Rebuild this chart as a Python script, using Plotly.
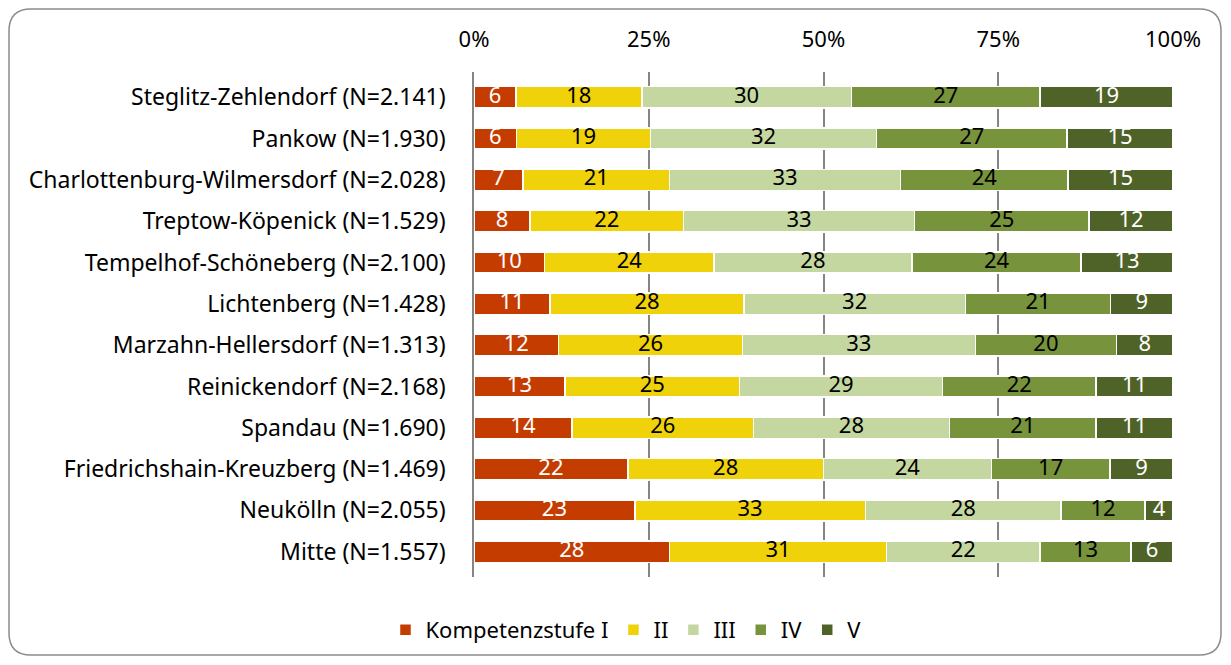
import plotly.graph_objects as go

districts = [
    "Steglitz-Zehlendorf (N=2.141)",
    "Pankow (N=1.930)",
    "Charlottenburg-Wilmersdorf (N=2.028)",
    "Treptow-Köpenick (N=1.529)",
    "Tempelhof-Schöneberg (N=2.100)",
    "Lichtenberg (N=1.428)",
    "Marzahn-Hellersdorf (N=1.313)",
    "Reinickendorf (N=2.168)",
    "Spandau (N=1.690)",
    "Friedrichshain-Kreuzberg (N=1.469)",
    "Neukölln (N=2.055)",
    "Mitte (N=1.557)",
]
stufe_I = [6, 6, 7, 8, 10, 11, 12, 13, 14, 22, 23, 28]
stufe_II = [18, 19, 21, 22, 24, 28, 26, 25, 26, 28, 33, 31]
stufe_III = [30, 32, 33, 33, 28, 32, 33, 29, 28, 24, 28, 22]
stufe_IV = [27, 27, 24, 25, 24, 21, 20, 22, 21, 17, 12, 13]
stufe_V = [19, 15, 15, 12, 13, 9, 8, 11, 11, 9, 4, 6]
series_names = ["Kompetenzstufe I", "II", "III", "IV", "V"]
tick_vals = [0, 25, 50, 75, 100]
tick_text = ["0%", "25%", "50%", "75%", "100%"]

colors = ["#C43C00", "#F0D20A", "#C4D7A0", "#77933C", "#4F6228"]
text_colors = ["white", "black", "black", "black", "white"]
FONT = "Noto Sans"
FS = 22

series = [stufe_I, stufe_II, stufe_III, stufe_IV, stufe_V]
totals = [sum(s[i] for s in series) for i in range(len(districts))]

fig = go.Figure()
for name, vals, c in zip(series_names, series, colors):
    fig.add_trace(go.Bar(
        name=name, y=districts, x=vals, orientation="h",
        marker=dict(color=c, line=dict(color="white", width=1.5)),
        textposition="none", hoverinfo="x+y",
    ))

# value labels at segment centres (in normalised percent units)
cum = [0.0] * len(districts)
for vals, tc in zip(series, text_colors):
    mids = []
    for i, v in enumerate(vals):
        share = 100.0 * v / totals[i]
        mids.append(cum[i] + share / 2)
        cum[i] += share
    fig.add_trace(go.Scatter(
        x=mids, y=districts, mode="text", text=[str(v) for v in vals],
        textposition="middle center", textfont=dict(family=FONT, size=FS, color=tc),
        showlegend=False, hoverinfo="skip", cliponaxis=False,
    ))

# page has an 8px body margin, so the figure is 16px smaller than the window
W, H = 1215, 649
ml, mr, mt, mb = 466, 50, 64, 80
pw, ph = W - ml - mr, H - mt - mb

def px(x):
    return (x - ml) / pw

def py(y):
    return (H - mb - y) / ph

x0, x1, y0, y1, r = 1, 1213, 1, 647, 22
path = (
    f"M {px(x0 + r)} {py(y0)} L {px(x1 - r)} {py(y0)} "
    f"Q {px(x1)} {py(y0)} {px(x1)} {py(y0 + r)} "
    f"L {px(x1)} {py(y1 - r)} Q {px(x1)} {py(y1)} {px(x1 - r)} {py(y1)} "
    f"L {px(x0 + r)} {py(y1)} Q {px(x0)} {py(y1)} {px(x0)} {py(y1 - r)} "
    f"L {px(x0)} {py(y0 + r)} Q {px(x0)} {py(y0)} {px(x0 + r)} {py(y0)} Z"
)

fig.update_layout(
    width=W, height=H,
    barmode="stack", barnorm="percent", bargap=0.485,
    margin=dict(l=ml, r=mr, t=mt, b=mb, autoexpand=False),
    paper_bgcolor="white", plot_bgcolor="white",
    font=dict(family=FONT, size=FS, color="black"),
    showlegend=True,
    legend=dict(orientation="h", x=px(618), xanchor="center", y=py(622), yanchor="middle",
                font=dict(family=FONT, size=FS), traceorder="normal", itemwidth=30,
                itemclick=False, bgcolor="rgba(0,0,0,0)"),
    shapes=[dict(type="path", path=path, xref="paper", yref="paper",
                 line=dict(color="#8c8c8c", width=1.5), fillcolor="rgba(0,0,0,0)", layer="below")],
)
fig.update_xaxes(
    side="top", range=[0, 100], tickmode="array", tickvals=tick_vals, ticktext=tick_text,
    showgrid=True, gridcolor="#858585", gridwidth=1.5, automargin=False,
    zeroline=False, showline=False, ticks="", ticklabelstandoff=20,
    tickfont=dict(family=FONT, size=FS), fixedrange=True,
)
fig.update_yaxes(
    autorange="reversed", showline=True, linecolor="#858585", linewidth=1.5,
    ticks="", ticklabelstandoff=22, tickfont=dict(family=FONT, size=23),
    showgrid=False, fixedrange=True, automargin=False,
)
fig.write_html("out.html")
